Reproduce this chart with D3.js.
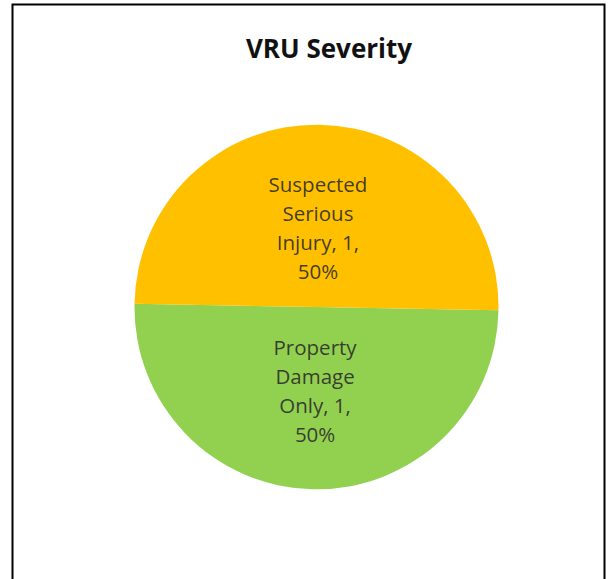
<!DOCTYPE html>
<html>
<head>
<meta charset="utf-8">
<script src="https://cdn.jsdelivr.net/npm/d3@7"></script>
<style>
  html, body { margin: 0; padding: 0; background: #fff; }
  svg { display: block; }
</style>
</head>
<body>
<svg id="chart"></svg>
<script>
// slice data, in drawing order (clockwise from 3 o'clock)
const categories = ['Property Damage Only', 'Suspected Serious Injury']
const counts = [1, 1]
const colors = ['#92D050', '#FFC000']
const labelLines = [
  ['Property', 'Damage', 'Only, 1,', '50%'],
  ['Suspected', 'Serious', 'Injury, 1,', '50%']
]
const title = 'VRU Severity'

const width = 608
const height = 579
const cx = 316.5
const cy = 307
const radius = 182
const tilt = 1 * Math.PI / 180

const svg = d3.select('#chart')
  .attr('width', width)
  .attr('height', height)

// chart frame (bottom edge runs off the picture)
svg.append('rect')
  .attr('x', 12.5)
  .attr('y', 4.5)
  .attr('width', 592)
  .attr('height', 600)
  .style('fill', '#fff')
  .style('stroke', '#000')
  .style('stroke-width', 2)

svg.append('text')
  .attr('x', 329)
  .attr('y', 58)
  .attr('text-anchor', 'middle')
  .style('font-family', '"Open Sans", sans-serif')
  .style('font-weight', 'bold')
  .style('font-size', '26px')
  .style('fill', '#111')
  .text(title)

const slices = categories.map((c, i) => ({name: c, value: counts[i], color: colors[i], lines: labelLines[i]}))

const pie = d3.pie()
  .value(d => d.value)
  .sort(null)
  .startAngle(Math.PI / 2 + tilt)
  .endAngle(Math.PI / 2 + tilt + 2 * Math.PI)

const arc = d3.arc().innerRadius(0).outerRadius(radius)
const labelArc = d3.arc().innerRadius(radius * 0.9).outerRadius(0)

const g = svg.append('g').attr('transform', `translate(${cx},${cy})`)

g.selectAll('path.slice')
  .data(pie(slices))
  .join('path')
  .attr('class', 'slice')
  .attr('d', arc)
  .style('fill', d => d.data.color)

const lineH = 29
const labels = g.selectAll('text.label')
  .data(pie(slices))
  .join('text')
  .attr('class', 'label')
  .attr('transform', d => {
    const [x, y] = labelArc.centroid(d)
    return `translate(${x},${y})`
  })
  .attr('text-anchor', 'middle')
  .style('font-family', '"Open Sans", sans-serif')
  .style('font-size', '20.5px')
  .style('fill', '#2a2a2a')
  .style('fill-opacity', 0.88)

labels.selectAll('tspan')
  .data(d => d.data.lines)
  .join('tspan')
  .attr('x', 0)
  .attr('y', (l, i, nodes) => (i - (nodes.length - 1) / 2) * lineH + 10)
  .text(l => l)
</script>
</body>
</html>
